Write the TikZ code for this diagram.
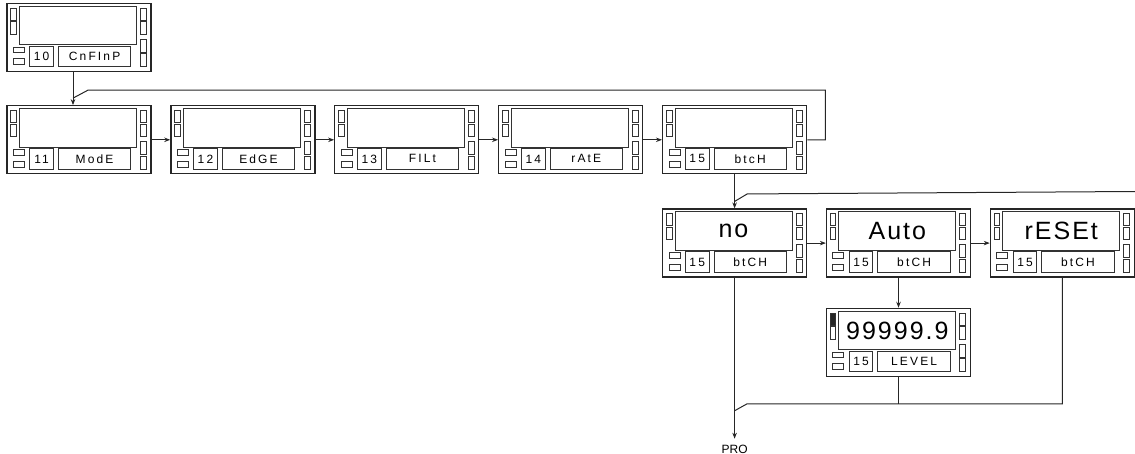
\documentclass[tikz,border=0pt]{standalone}
\usepackage{fontspec}
\setmainfont{Liberation Sans}
\newfontfamily\lcdfont[LetterSpace=18]{Liberation Sans}
\newfontfamily\bigfont[LetterSpace=8]{Liberation Sans}
\usetikzlibrary{arrows.meta, positioning}

%% inner parts of one meter front, drawn from its north west corner
\newcommand{\meterparts}[5]{%
  \begin{scope}[shift={(#1.north west)}, x=1pt, y=-1pt]
    \draw [led, fill=#5] (4.5,5.5) rectangle (10,17.5);
    \draw [led] (4.5,19) rectangle (10,31.5);
    \draw [led] (7,44.5) rectangle (18,50);
    \draw [led] (7,56) rectangle (18,62);
    \foreach \ya/\yb in {5.5/17.5, 19/31.5, 36.5/49.5, 51/64}
      \draw [led] (134,\ya) rectangle (140,\yb);
    \node (#1-disp) [display] at (71.5,22.75) {#4};
    \node (#1-num)  [numbox]  at (35.25,53.75) {#2};
    \node (#1-lbl)  [lblbox]  at (88.25,53.75) {#3};
  \end{scope}}

\begin{document}
\begin{tikzpicture}[
    node distance=18.6pt,
    meter/.style={
        rectangle, draw=black!85, line width=1.3pt,
        minimum width=144pt, minimum height=68pt, inner sep=0pt
    },
    led/.style={draw=black!80, line width=0.9pt},
    display/.style={
        rectangle, draw=black!80, line width=0.9pt, inner sep=0pt,
        minimum width=117pt, minimum height=38.5pt,
        font=\bigfont\fontsize{25}{27}\selectfont
    },
    numbox/.style={
        rectangle, draw=black!80, line width=0.9pt, inner sep=0pt,
        minimum width=23.5pt, minimum height=20.5pt,
        font=\lcdfont\fontsize{12}{14}\selectfont
    },
    lblbox/.style={
        rectangle, draw=black!80, line width=0.9pt, inner sep=0pt,
        minimum width=72.5pt, minimum height=20.5pt,
        font=\lcdfont\fontsize{12}{14}\selectfont
    },
    link/.style={draw=black!85, line width=1pt},
    arrow/.style={link, -{Stealth[length=6pt, width=4.5pt]}}
]
\useasboundingbox (0,0) rectangle (1135pt,-454pt);

%% Start
\node (cnfinp) [meter] at (79pt,-37.5pt) {};

%% Parameter row
\node (mode) [meter, below=33pt of cnfinp] {};
\node (edge) [meter, right=of mode] {};
\node (filt) [meter, right=of edge] {};
\node (rate) [meter, right=of filt] {};
\node (btch) [meter, right=of rate] {};

%% Batch choices
\node (no)    [meter, below=34pt of btch] {};
\node (auto)  [meter, right=of no] {};
\node (reset) [meter, right=of auto] {};
\node (level) [meter, below=30pt of auto] {};

\node (pro) [below=166pt of no, inner sep=1pt,
    font=\fontsize{12}{13}\selectfont] {PRO};

%% Fronts
\meterparts{cnfinp}{10}{CnFInP}{}{white}
\meterparts{mode}{11}{ModE}{}{white}
\meterparts{edge}{12}{EdGE}{}{white}
\meterparts{filt}{13}{FILt}{}{white}
\meterparts{rate}{14}{rAtE}{}{white}
\meterparts{btch}{15}{btcH}{}{white}
\meterparts{no}{15}{btCH}{no}{white}
\meterparts{auto}{15}{btCH}{Auto}{white}
\meterparts{reset}{15}{btCH}{rESEt}{white}
\meterparts{level}{15}{LEVEL}{99999.9}{black!85}

%% Arrows
\draw [arrow] ([xshift=-6pt]cnfinp.south) -- ([xshift=-6pt]mode.north);
\foreach \a/\b in {mode/edge, edge/filt, filt/rate, rate/btch}
    \draw [arrow] (\a) -- (\b);
\coordinate (mode-in) at ([xshift=-6pt, yshift=7pt]mode.north);
\draw [link] (btch.east) -- ++(18pt,0) |- ([xshift=15pt, yshift=8pt]mode-in)
    -- (mode-in);

\draw [arrow] (btch) -- (no);
\coordinate (no-in) at ([yshift=7pt]no.north);
\coordinate (cut-top) at (1135pt,-191.5pt);
\draw [link] (cut-top) -- ([xshift=12.6pt, yshift=7.5pt]no-in) -- (no-in);

\draw [arrow] (no) -- (auto);
\draw [arrow] (auto) -- (reset);
\coordinate (cut-right) at (1135pt,-240pt);
\draw [link] (reset.east) -- (cut-right);
\draw [arrow] (auto) -- (level);

%% Back to PRO
\coordinate (no-out) at ([yshift=-133pt]no.south);
\coordinate (ret) at ([xshift=12.6pt, yshift=7pt]no-out);
\draw [link] (reset.south) |- (ret) -- (no-out);
\draw [link] (level.south) -- (level.south |- ret);
\draw [arrow, shorten >=5pt] (no.south) -- (pro.north);

\end{tikzpicture}
\end{document}
